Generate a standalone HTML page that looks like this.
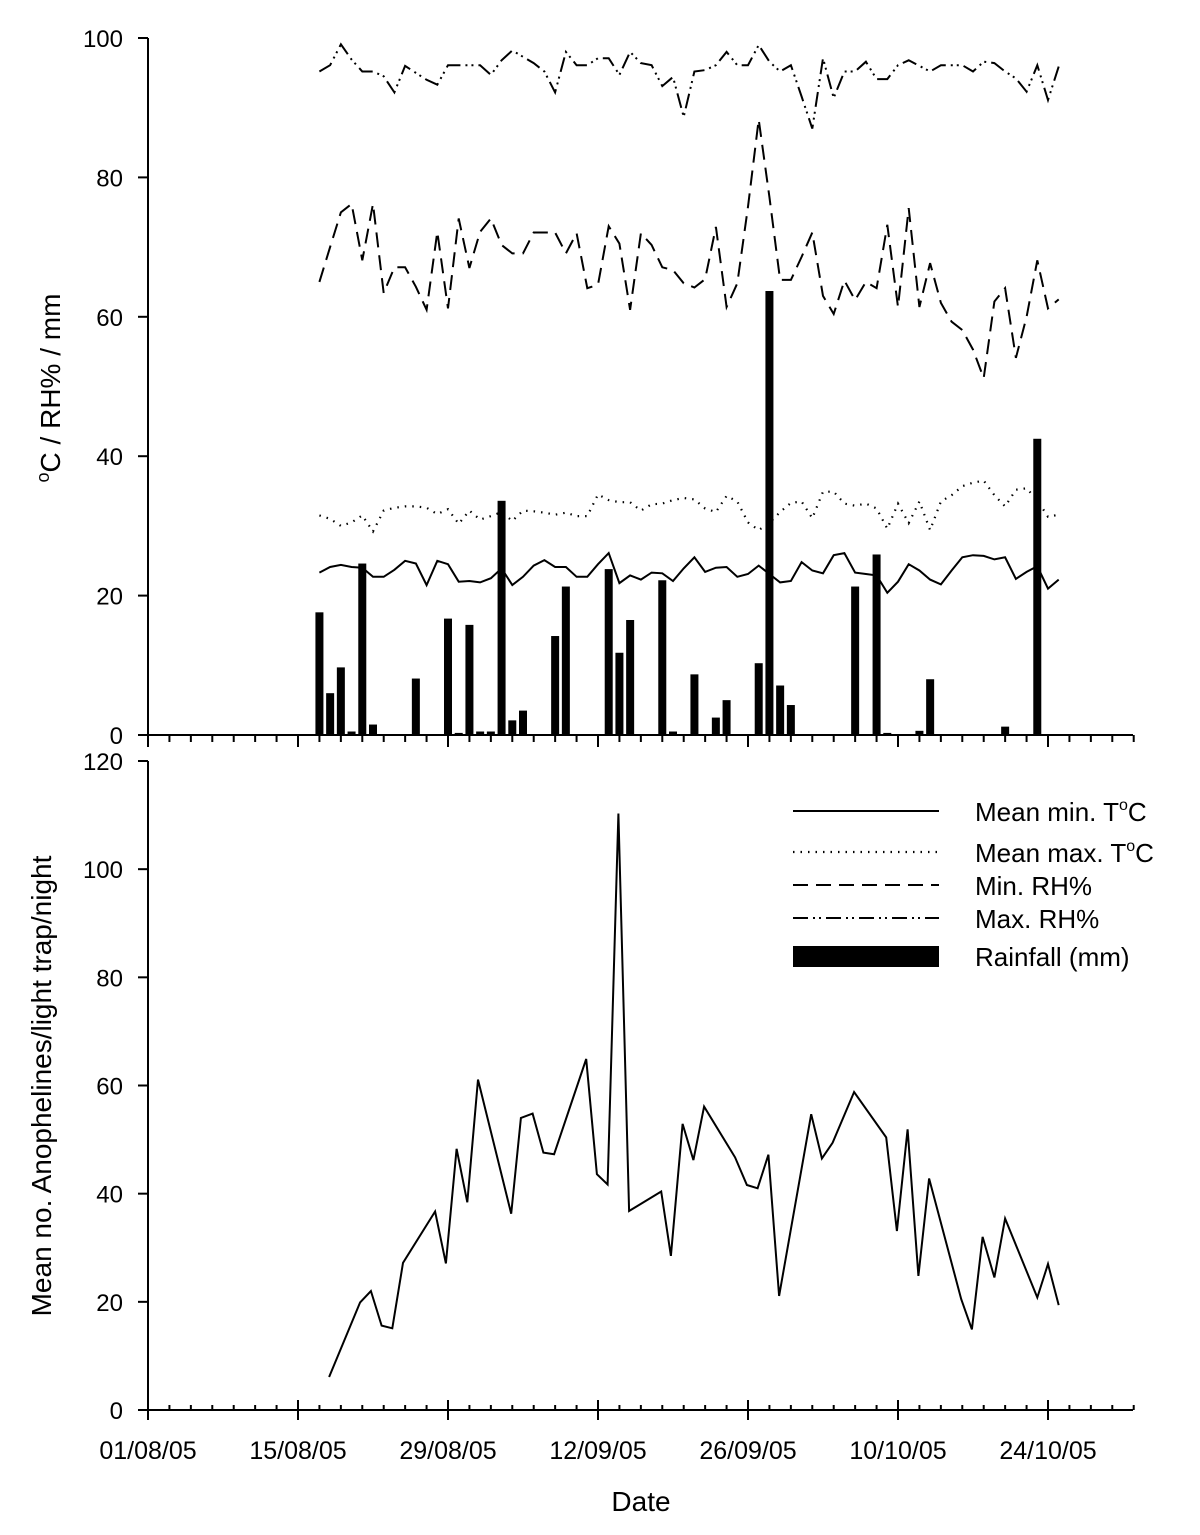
<!DOCTYPE html>
<html><head><meta charset="utf-8"><style>
html,body{margin:0;padding:0;background:#fff;}
svg{display:block;font-family:"Liberation Sans",Arial,sans-serif;}
</style></head><body>
<svg id="chart" width="1200" height="1535" viewBox="0 0 1200 1535" xmlns="http://www.w3.org/2000/svg">
<g id="topPanel"></g>
<g id="bottomPanel"></g>
<g id="legendGroup"></g>
<text transform="translate(60,388) rotate(-90)" text-anchor="middle" font-size="28"><tspan font-size="18" dy="-11">o</tspan><tspan dy="11">C / RH% / mm</tspan></text>
<text transform="translate(51,1086) rotate(-90)" text-anchor="middle" font-size="28">Mean no. Anophelines/light trap/night</text>
<text x="641" y="1511" text-anchor="middle" font-size="28">Date</text>
</svg>
<script>
// ---- data ----
const startDay = 16; // days after 01/08/05 of first daily reading
const minTemp = [23.3,24.1,24.4,24.1,24.0,22.7,22.7,23.7,25.0,24.6,21.5,25.0,24.5,22.0,22.1,21.9,22.5,23.9,21.5,22.7,24.3,25.1,24.1,24.1,22.7,22.7,24.5,26.1,21.8,22.9,22.3,23.3,23.2,22.1,23.9,25.5,23.4,24.0,24.1,22.7,23.1,24.3,23.1,21.9,22.1,24.8,23.6,23.2,25.8,26.1,23.3,23.1,22.9,20.4,22.0,24.5,23.6,22.3,21.6,23.6,25.5,25.8,25.7,25.2,25.5,22.4,23.4,24.2,21.0,22.3];
const maxTemp = [31.5,31.0,30.0,30.5,31.5,29.2,32.2,32.6,32.8,32.8,32.6,31.7,32.4,30.3,32.2,30.9,31.4,32.0,30.7,32.2,32.1,31.9,31.6,31.9,31.4,31.4,34.5,33.7,33.4,33.4,32.2,33.1,33.2,33.7,34.0,33.8,32.5,32.0,34.3,33.5,30.5,29.4,30.4,32.0,33.3,33.5,31.1,34.9,34.9,33.2,32.9,33.2,32.5,29.6,33.2,30.4,33.5,29.4,33.5,34.4,35.7,36.2,36.5,34.4,32.8,35.2,35.4,33.7,31.3,31.6];
const minRH = [65,70,75,76.2,68.1,76.2,63.4,67.1,67.1,64.3,61.0,72.2,61.2,74.1,67.0,72.2,74.1,70.3,69.1,69.1,72.1,72.1,72.1,69.1,72.0,64.1,64.6,73.0,70.5,61.0,72.0,70.3,67.1,66.7,64.8,64.2,65.4,72.9,61.4,64.8,75.8,88.3,77.2,65.3,65.3,68.6,72.1,63.0,60.4,65.2,62.4,65.0,64.1,73.2,61.4,75.6,61.4,67.7,62.0,59.3,58.1,55.3,51.2,62.2,64.1,54.1,60.0,68.1,61.2,62.5];
const maxRH = [95.2,96.1,99.1,96.9,95.2,95.2,94.5,92.2,96.0,95.0,94.0,93.3,96.1,96.1,96.1,96.1,94.7,96.8,98.2,97.3,96.4,95.2,92.2,98.0,96.1,96.1,97.1,97.1,94.7,98.0,96.4,96.1,93.1,94.4,88.7,95.2,95.4,96.1,98.0,96.1,96.1,99.0,96.6,95.2,96.1,91.6,87.0,97.1,91.4,95.2,95.2,96.6,94.1,94.1,96.1,96.8,96.0,95.2,96.1,96.1,96.1,95.2,96.6,96.4,95.2,94.2,92.3,96.1,91.1,95.9];
const rainDays = [16,17,18,19,20,21,25,28,29,30,31,32,33,34,35,38,39,43,44,45,48,49,51,53,54,57,58,59,60,66,68,69,72,73,80,83];
const rainMM = [17.6,6.0,9.7,0.5,24.6,1.5,8.1,16.7,0.3,15.8,0.5,0.5,33.6,2.1,3.5,14.2,21.3,23.8,11.8,16.5,22.2,0.5,8.7,2.5,5.0,10.3,63.7,7.1,4.3,21.3,25.9,0.3,0.6,8.0,1.2,42.5];
const catchDays = [16.9,19.8,20.8,21.8,22.8,23.8,26.8,27.8,28.8,29.8,30.8,33.9,34.8,35.9,36.9,37.9,40.9,41.9,42.9,43.9,44.9,47.9,48.8,49.9,50.9,51.9,54.8,55.9,56.9,57.9,58.9,61.9,62.9,63.9,65.9,68.9,69.9,70.9,71.9,72.9,75.9,76.9,77.9,79.0,80.0,83.0,84.0,85.0];
const catchVals = [6.1,19.9,22.0,15.6,15.1,27.2,36.7,27.1,48.3,38.4,61.1,36.3,54.0,54.8,47.6,47.3,64.9,43.6,41.7,110.3,36.8,40.4,28.5,52.9,46.2,56.1,46.7,41.6,41.0,47.2,21.1,54.7,46.5,49.4,58.8,50.4,33.1,51.9,24.8,42.8,20.5,14.9,32.0,24.5,35.4,20.8,27.0,19.4];
const dateLabels = ["01/08/05","15/08/05","29/08/05","12/09/05","26/09/05","10/10/05","24/10/05"];
const topTicks = [0,20,40,60,80,100];
const botTicks = [0,20,40,60,80,100,120];

// ---- scales ----
const NS="http://www.w3.org/2000/svg";
const X0=148, PX_DAY=150/14, XEND=1133;
const xs = d => X0 + d*PX_DAY;
const yTop = v => 735 - v*(697/100);
const yBot = v => 1410 - v*(649/120);
function mk(tag, attrs, parent){const e=document.createElementNS(NS,tag);for(const k in attrs)e.setAttribute(k,attrs[k]);parent.appendChild(e);return e;}
const topG=document.getElementById('topPanel'), botG=document.getElementById('bottomPanel'), leg=document.getElementById('legendGroup');
const ln={stroke:'#000','stroke-width':2,fill:'none'};

// top axes
let e=mk('line',{x1:X0,y1:38,x2:X0,y2:735,...ln},topG);


e=mk('line',{x1:X0,y1:735,x2:XEND,y2:735,...ln},topG);


topTicks.forEach(v=>{
  const t=mk('line',{x1:X0-10,y1:yTop(v),x2:X0,y2:yTop(v),...ln},topG);
  
  
  const l=mk('text',{x:123,y:yTop(v)+9,'text-anchor':'end','font-size':24},topG);
  l.textContent=v;
  
  
});
for(let d=0; xs(d)<=XEND+1; d+=2){
  const major = d%14===0;
  const t=mk('line',{x1:xs(d),y1:735,x2:xs(d),y2:735+(major?12:7),...ln},topG);
  
  
}
// rainfall bars
rainDays.forEach((d,i)=>{
  const y=yTop(rainMM[i]);
  const r=mk('rect',{x:xs(d)-4,y:y,width:8,height:735-y,fill:'#000'},topG);
  
  
});
function series(arr, dash, name, parent){
  const pts=arr.map((v,i)=>xs(startDay+i).toFixed(1)+','+yTop(v).toFixed(1)).join(' ');
  const p=mk('polyline',{points:pts,...ln,'stroke-width':dash==='dot'?2.2:2,'stroke-dasharray':dash==='dot'?'1.5,6':dash},parent);
  
  
}
series(minTemp,'none','mean-min-temp-line',topG);
series(maxTemp,'dot','mean-max-temp-line',topG);
series(minRH,'15,8','min-rh-line',topG);
series(maxRH,'15,5,2,4,2,5','max-rh-line',topG);

// bottom axes
e=mk('line',{x1:X0,y1:761,x2:X0,y2:1410,...ln},botG);


e=mk('line',{x1:X0-10,y1:1410,x2:XEND,y2:1410,...ln},botG);


botTicks.forEach(v=>{
  const t=mk('line',{x1:X0-10,y1:yBot(v),x2:X0,y2:yBot(v),...ln},botG);
  
  
  const l=mk('text',{x:123,y:yBot(v)+9,'text-anchor':'end','font-size':24},botG);
  l.textContent=v;
  
  
});
for(let d=0; xs(d)<=XEND+1; d+=2){
  const major = d%14===0;
  const t=mk('line',{x1:xs(d),y1:major?1400:1405,x2:xs(d),y2:major?1420:1410,...ln},botG);
  
  
}
dateLabels.forEach((s,i)=>{
  const l=mk('text',{x:xs(i*14),y:1459,'text-anchor':'middle','font-size':25},botG);
  l.textContent=s;
  
  
});
const cp=mk('polyline',{points:catchDays.map((d,i)=>xs(d).toFixed(1)+','+yBot(catchVals[i]).toFixed(1)).join(' '),...ln},botG);



// legend
const legItems=[["Mean min. T","none",811,true],["Mean max. T","dot",852,true],["Min. RH%","15,8",885,false],["Max. RH%","15,5,2,4,2,5",918,false]];
legItems.forEach(it=>{
  const l=mk('line',{x1:793,y1:it[2],x2:939,y2:it[2],...ln,'stroke-width':it[1]==='dot'?2.2:2,'stroke-dasharray':it[1]==='dot'?'1.5,6':it[1]},leg);
  
  
  const t=mk('text',{x:975,y:it[2]+10,'font-size':26},leg);
  
  
  t.textContent=it[0];
  if(it[3]){const s=mk('tspan',{'font-size':16,dy:-11},t);s.textContent='o';const c=mk('tspan',{dy:11},t);c.textContent='C';}
});
const rr=mk('rect',{x:793,y:946,width:146,height:21,fill:'#000'},leg);


const rt=mk('text',{x:975,y:966,'font-size':26},leg);
rt.textContent='Rainfall (mm)';


</script>
</body></html>
